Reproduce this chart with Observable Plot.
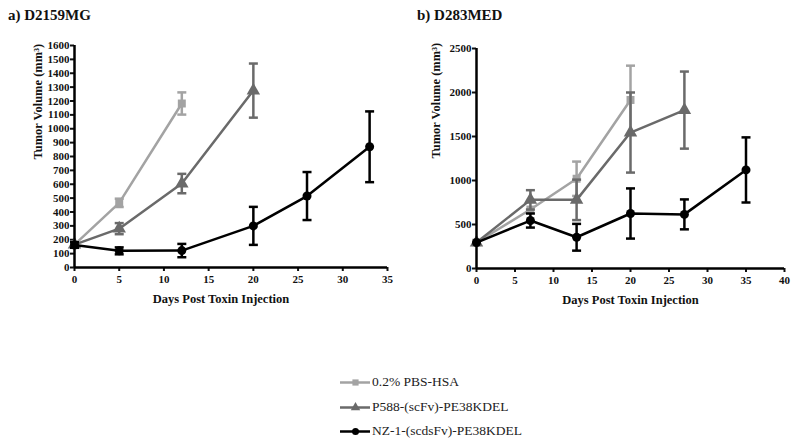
<!DOCTYPE html>
<html><head><meta charset="utf-8">
<script src="https://cdn.jsdelivr.net/npm/d3@7"></script>
<script src="https://cdn.jsdelivr.net/npm/@observablehq/plot@0.6"></script>
<style>
body{margin:0;background:#fff;}
#root{position:relative;width:800px;height:448px;overflow:hidden;font-family:'Liberation Serif','Times New Roman',serif;}
#root svg text{font-family:'Liberation Serif','Times New Roman',serif !important;}
.panel{position:absolute;top:0;}
.title{position:absolute;font-weight:bold;font-size:15px;color:#111;}
.legend{position:absolute;left:340px;top:370px;font-size:13.5px;color:#222;font-family:'Liberation Serif','Times New Roman',serif;}
.legend .row{display:flex;align-items:center;height:24.5px;}
.legend svg{margin-right:2px;}
</style></head>
<body><div id="root"></div>
<script>
const FONT = "'Liberation Serif', 'Times New Roman', serif";
const seriesNames = ["0.2% PBS-HSA", "P588-(scFv)-PE38KDEL", "NZ-1-(scdsFv)-PE38KDEL"];
const seriesColors = ["#a3a3a3", "#6a6a6a", "#000000"];
const seriesSymbols = ["square", "triangle", "circle"];

// Panel a) D2159MG
const aPbsDays = [0, 5, 12];
const aPbsMean = [165, 466, 1182];
const aPbsSem  = [0, 30, 80];
const aP588Days = [0, 5, 12, 20];
const aP588Mean = [165, 280, 605, 1275];
const aP588Sem  = [0, 40, 70, 195];
const aNzDays = [0, 5, 12, 20, 26, 33];
const aNzMean = [162, 120, 122, 300, 515, 870];
const aNzSem  = [20, 25, 48, 137, 173, 255];

// Panel b) D283MED
const bPbsDays = [0, 7, 13, 20];
const bPbsMean = [295, 670, 1020, 1915];
const bPbsSem  = [0, 0, 195, 390];
const bP588Days = [0, 7, 13, 20, 27];
const bP588Mean = [295, 780, 780, 1545, 1800];
const bP588Sem  = [0, 110, 230, 455, 438];
const bNzDays = [0, 7, 13, 20, 27, 35];
const bNzMean = [295, 545, 355, 625, 615, 1120];
const bNzSem  = [0, 80, 152, 285, 170, 370];

const aTicksX = [0, 5, 10, 15, 20, 25, 30, 35];
const aTicksY = [0,100,200,300,400,500,600,700,800,900,1000,1100,1200,1300,1400,1500,1600];
const bTicksX = [0, 5, 10, 15, 20, 25, 30, 35, 40];
const bTicksY = [0, 500, 1000, 1500, 2000, 2500];

function rows(days, mean, sem, k) {
  return days.map((d, i) => ({day: d, v: mean[i], lo: mean[i] - sem[i], hi: mean[i] + sem[i], s: k}));
}

const cap = {draw(ctx, size){ const w = Math.sqrt(size / Math.PI); ctx.moveTo(-w, 0); ctx.lineTo(w, 0); }};

function seriesMarks(data, k) {
  const c = seriesColors[k];
  const eb = data.filter(d => d.hi > d.lo);
  return [
    Plot.ruleX(eb, {x: "day", y1: "lo", y2: "hi", stroke: c, strokeWidth: 2.5}),
    Plot.dot(eb, {x: "day", y: "hi", symbol: cap, r: 4.5, stroke: c, strokeWidth: 2.5, fill: "none"}),
    Plot.dot(eb, {x: "day", y: "lo", symbol: cap, r: 4.5, stroke: c, strokeWidth: 2.5, fill: "none"}),
    Plot.line(data, {x: "day", y: "v", stroke: c, strokeWidth: 2.5}),
    Plot.dot(data, {x: "day", y: "v", symbol: seriesSymbols[k], fill: c, stroke: "none", r: k === 1 ? 5 : 4.5})
  ];
}

function panel(opts) {
  return Plot.plot({
    width: 400, height: 320,
    marginLeft: opts.ml, marginRight: opts.mr, marginTop: opts.mt, marginBottom: opts.mb,
    x: {domain: opts.xd, ticks: opts.tx},
    y: {domain: opts.yd, ticks: opts.ty},
    style: {fontFamily: FONT, fontWeight: "bold", fontSize: "11px", color: "#111", background: "transparent"},
    marks: [
      Plot.axisX({ticks: opts.tx, tickFormat: d => String(d), tickSize: 4, tickPadding: 4, strokeWidth: 2, label: null, fontFamily: FONT}),
      Plot.axisY({ticks: opts.ty, tickFormat: d => String(d), tickSize: 4, tickPadding: 1, strokeWidth: 2, label: null, fontFamily: FONT}),
      ...opts.series.flatMap((d, k) => seriesMarks(d, k)),
      Plot.ruleX([opts.xd[0]], {stroke: "#000", strokeWidth: 2.5}),
      Plot.ruleY([opts.yd[0]], {stroke: "#000", strokeWidth: 2.5}),
      Plot.text(["Days Post Toxin Injection"], {frameAnchor: "bottom", dx: opts.xlx, dy: 35, fontSize: 12.5, fontWeight: "bold", fontFamily: FONT, fill: "#111"}),
      Plot.text(["Tumor Volume (mm³)"], {frameAnchor: "left", dx: -opts.yl, dy: opts.yly, rotate: -90, fontSize: 12.5, fontWeight: "bold", fontFamily: FONT, fill: "#111"})
    ]
  });
}

const root = document.getElementById("root");

const pa = panel({ml: 74, mr: 13, mt: 45, mb: 53, xd: [0, 35], yd: [0, 1600], tx: aTicksX, ty: aTicksY, yl: 37, xlx: -10, yly: 3,
  series: [rows(aPbsDays, aPbsMean, aPbsSem, 0), rows(aP588Days, aP588Mean, aP588Sem, 1), rows(aNzDays, aNzMean, aNzSem, 2)]});
const pb = panel({ml: 76, mr: 16, mt: 48, mb: 52, xd: [0, 40], yd: [0, 2500], tx: bTicksX, ty: bTicksY, yl: 41, xlx: 0, yly: 0,
  series: [rows(bPbsDays, bPbsMean, bPbsSem, 0), rows(bP588Days, bP588Mean, bP588Sem, 1), rows(bNzDays, bNzMean, bNzSem, 2)]});

const da = document.createElement("div"); da.className = "panel"; da.style.left = "0px"; da.appendChild(pa); root.appendChild(da);
const db = document.createElement("div"); db.className = "panel"; db.style.left = "400px"; db.appendChild(pb); root.appendChild(db);

const ta = document.createElement("div"); ta.className = "title"; ta.style.left = "8px"; ta.style.top = "7px"; ta.textContent = "a) D2159MG"; root.appendChild(ta);
const tb = document.createElement("div"); tb.className = "title"; tb.style.left = "417px"; tb.style.top = "7px"; tb.textContent = "b) D283MED"; root.appendChild(tb);

const leg = document.createElement("div"); leg.className = "legend";
seriesNames.forEach((name, k) => {
  const row = document.createElement("div"); row.className = "row";
  const sw = Plot.plot({
    width: 30, height: 14, margin: 0, axis: null,
    x: {domain: [0, 1]}, y: {domain: [0, 1]},
    style: {background: "transparent"},
    marks: [
      Plot.ruleY([0.5], {x1: 0, x2: 1, stroke: seriesColors[k], strokeWidth: 2.5}),
      Plot.dot([0.5], {x: d => d, y: 0.5, symbol: seriesSymbols[k], fill: seriesColors[k], r: 3.5})
    ]
  });
  row.appendChild(sw);
  const t = document.createElement("span"); t.textContent = name; row.appendChild(t);
  leg.appendChild(row);
});
root.appendChild(leg);
</script>
</body></html>
